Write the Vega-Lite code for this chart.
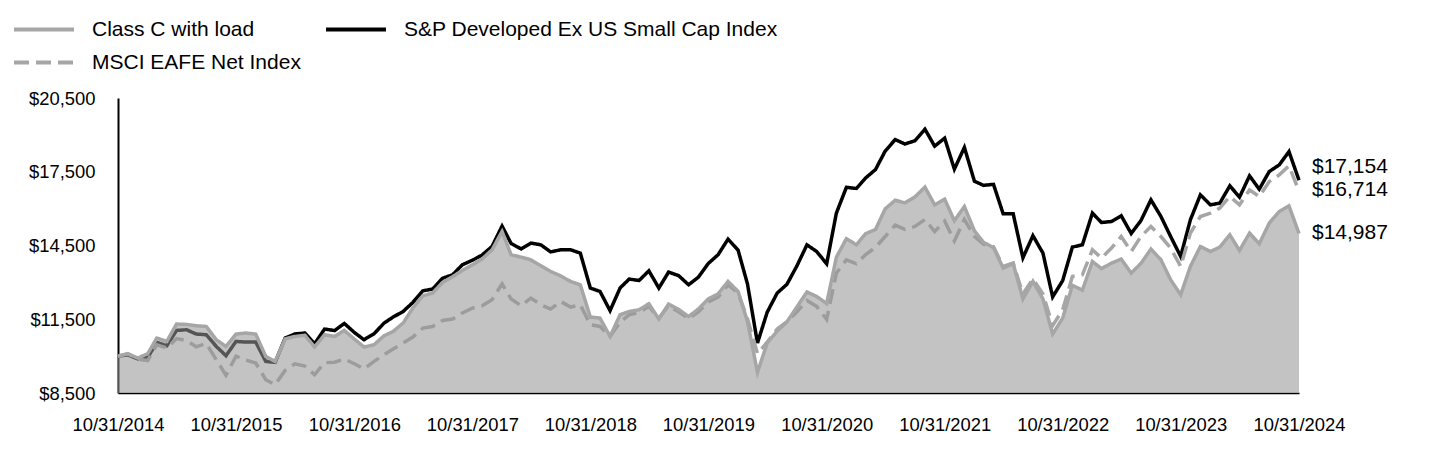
{
  "$schema": "https://vega.github.io/schema/vega-lite/v6.json",
  "width": 1181,
  "height": 295,
  "autosize": {"type": "none"},
  "padding": {"left": 118, "top": 98, "right": 141, "bottom": 75},
  "background": "white",
  "config": {"view": {"stroke": null}, "font": "Liberation Sans"},
  "data": {"values": [
    {"d":"2014-10-31","fund":10000,"index":10000,"msci":10000},
    {"d":"2014-11-30","fund":10100,"index":10050,"msci":10097},
    {"d":"2014-12-31","fund":9920,"index":9890,"msci":9880},
    {"d":"2015-01-31","fund":10100,"index":9950,"msci":9820},
    {"d":"2015-02-28","fund":10736,"index":10557,"msci":10460},
    {"d":"2015-03-31","fund":10598,"index":10423,"msci":10330},
    {"d":"2015-04-30","fund":11305,"index":11045,"msci":10715},
    {"d":"2015-05-31","fund":11290,"index":11073,"msci":10630},
    {"d":"2015-06-30","fund":11235,"index":10898,"msci":10380},
    {"d":"2015-07-31","fund":11207,"index":10870,"msci":10518},
    {"d":"2015-08-31","fund":10667,"index":10394,"msci":9854},
    {"d":"2015-09-30","fund":10394,"index":10016,"msci":9220},
    {"d":"2015-10-31","fund":10898,"index":10598,"msci":10000},
    {"d":"2015-11-30","fund":10939,"index":10571,"msci":9840},
    {"d":"2015-12-31","fund":10898,"index":10571,"msci":9720},
    {"d":"2016-01-31","fund":9988,"index":9785,"msci":9041},
    {"d":"2016-02-29","fund":9785,"index":9744,"msci":8837},
    {"d":"2016-03-31","fund":10700,"index":10736,"msci":9420},
    {"d":"2016-04-30","fund":10800,"index":10900,"msci":9685},
    {"d":"2016-05-31","fund":10850,"index":10940,"msci":9596},
    {"d":"2016-06-30","fund":10370,"index":10500,"msci":9244},
    {"d":"2016-07-31","fund":10870,"index":11101,"msci":9732},
    {"d":"2016-08-31","fund":10800,"index":11040,"msci":9752},
    {"d":"2016-09-30","fund":11045,"index":11330,"msci":9882},
    {"d":"2016-10-31","fund":10694,"index":10963,"msci":9690},
    {"d":"2016-11-30","fund":10370,"index":10667,"msci":9476},
    {"d":"2016-12-31","fund":10463,"index":10910,"msci":9785},
    {"d":"2017-01-31","fund":10829,"index":11345,"msci":10057},
    {"d":"2017-02-28","fund":11004,"index":11589,"msci":10289},
    {"d":"2017-03-31","fund":11345,"index":11817,"msci":10532},
    {"d":"2017-04-30","fund":11955,"index":12183,"msci":10776},
    {"d":"2017-05-31","fund":12455,"index":12658,"msci":11142},
    {"d":"2017-06-30","fund":12565,"index":12728,"msci":11207},
    {"d":"2017-07-31","fund":13000,"index":13170,"msci":11451},
    {"d":"2017-08-31","fund":13230,"index":13309,"msci":11508},
    {"d":"2017-09-30","fund":13484,"index":13715,"msci":11752},
    {"d":"2017-10-31","fund":13715,"index":13900,"msci":11955},
    {"d":"2017-11-30","fund":13947,"index":14110,"msci":12049},
    {"d":"2017-12-31","fund":14325,"index":14460,"msci":12293},
    {"d":"2018-01-31","fund":15069,"index":15290,"msci":12943},
    {"d":"2018-02-28","fund":14122,"index":14580,"msci":12321},
    {"d":"2018-03-31","fund":14028,"index":14360,"msci":12049},
    {"d":"2018-04-30","fund":13919,"index":14598,"msci":12362},
    {"d":"2018-05-31","fund":13675,"index":14528,"msci":12089},
    {"d":"2018-06-30","fund":13443,"index":14240,"msci":11915},
    {"d":"2018-07-31","fund":13268,"index":14325,"msci":12224},
    {"d":"2018-08-31","fund":13037,"index":14325,"msci":11996},
    {"d":"2018-09-30","fund":12902,"index":14190,"msci":12089},
    {"d":"2018-10-31","fund":11589,"index":12768,"msci":11276},
    {"d":"2018-11-30","fund":11548,"index":12630,"msci":11207},
    {"d":"2018-12-31","fund":10800,"index":11850,"msci":10800},
    {"d":"2019-01-31","fund":11683,"index":12770,"msci":11378},
    {"d":"2019-02-28","fund":11817,"index":13134,"msci":11683},
    {"d":"2019-03-31","fund":11886,"index":13077,"msci":11780},
    {"d":"2019-04-30","fund":12130,"index":13471,"msci":12022},
    {"d":"2019-05-31","fund":11508,"index":12768,"msci":11548},
    {"d":"2019-06-30","fund":12118,"index":13418,"msci":12050},
    {"d":"2019-07-31","fund":11900,"index":13275,"msci":11800},
    {"d":"2019-08-31","fund":11610,"index":12902,"msci":11520},
    {"d":"2019-09-30","fund":11915,"index":13210,"msci":11800},
    {"d":"2019-10-31","fund":12330,"index":13770,"msci":12200},
    {"d":"2019-11-30","fund":12530,"index":14122,"msci":12400},
    {"d":"2019-12-31","fund":13037,"index":14760,"msci":12902},
    {"d":"2020-01-31","fund":12630,"index":14310,"msci":12565},
    {"d":"2020-02-29","fund":11410,"index":12940,"msci":11520},
    {"d":"2020-03-31","fund":9340,"index":10532,"msci":10100},
    {"d":"2020-04-30","fund":10532,"index":11785,"msci":10565},
    {"d":"2020-05-31","fund":11020,"index":12565,"msci":11101},
    {"d":"2020-06-30","fund":11390,"index":12920,"msci":11400},
    {"d":"2020-07-31","fund":12000,"index":13670,"msci":11800},
    {"d":"2020-08-31","fund":12610,"index":14528,"msci":12260},
    {"d":"2020-09-30","fund":12427,"index":14256,"msci":12022},
    {"d":"2020-10-31","fund":12140,"index":13756,"msci":11494},
    {"d":"2020-11-30","fund":14020,"index":15817,"msci":13378},
    {"d":"2020-12-31","fund":14780,"index":16866,"msci":13919},
    {"d":"2021-01-31","fund":14528,"index":16820,"msci":13756},
    {"d":"2021-02-28","fund":14976,"index":17240,"msci":14122},
    {"d":"2021-03-31","fund":15150,"index":17590,"msci":14427},
    {"d":"2021-04-30","fund":15990,"index":18340,"msci":14866},
    {"d":"2021-05-31","fund":16340,"index":18810,"msci":15327},
    {"d":"2021-06-30","fund":16236,"index":18628,"msci":15152},
    {"d":"2021-07-31","fund":16480,"index":18762,"msci":15273},
    {"d":"2021-08-31","fund":16874,"index":19232,"msci":15560},
    {"d":"2021-09-30","fund":16154,"index":18540,"msci":15069},
    {"d":"2021-10-31","fund":16386,"index":18866,"msci":15496},
    {"d":"2021-11-30","fund":15510,"index":17606,"msci":14683},
    {"d":"2021-12-31","fund":16085,"index":18490,"msci":15560},
    {"d":"2022-01-31","fund":15100,"index":17116,"msci":14868},
    {"d":"2022-02-28","fund":14630,"index":16947,"msci":14555},
    {"d":"2022-03-31","fund":14415,"index":16988,"msci":14448},
    {"d":"2022-04-30","fund":13581,"index":15788,"msci":13647},
    {"d":"2022-05-31","fund":13760,"index":15788,"msci":13784},
    {"d":"2022-06-30","fund":12325,"index":14000,"msci":12530},
    {"d":"2022-07-31","fund":13040,"index":14900,"msci":13140},
    {"d":"2022-08-31","fund":12330,"index":14190,"msci":12530},
    {"d":"2022-09-30","fund":10900,"index":12410,"msci":11240},
    {"d":"2022-10-31","fund":11548,"index":13070,"msci":11886},
    {"d":"2022-11-30","fund":12880,"index":14435,"msci":13240},
    {"d":"2022-12-31","fund":12685,"index":14528,"msci":13309},
    {"d":"2023-01-31","fund":13850,"index":15817,"msci":14325},
    {"d":"2023-02-28","fund":13560,"index":15435,"msci":13988},
    {"d":"2023-03-31","fund":13784,"index":15476,"msci":14394},
    {"d":"2023-04-30","fund":13947,"index":15710,"msci":14866},
    {"d":"2023-05-31","fund":13378,"index":14990,"msci":14256},
    {"d":"2023-06-30","fund":13770,"index":15510,"msci":14866},
    {"d":"2023-07-31","fund":14353,"index":16358,"msci":15273},
    {"d":"2023-08-31","fund":13919,"index":15679,"msci":14866},
    {"d":"2023-09-30","fund":13105,"index":14866,"msci":14394},
    {"d":"2023-10-31","fund":12496,"index":14053,"msci":13647},
    {"d":"2023-11-30","fund":13647,"index":15545,"msci":15003},
    {"d":"2023-12-31","fund":14460,"index":16561,"msci":15679},
    {"d":"2024-01-31","fund":14256,"index":16154,"msci":15817},
    {"d":"2024-02-29","fund":14435,"index":16224,"msci":16020},
    {"d":"2024-03-31","fund":14935,"index":16927,"msci":16492},
    {"d":"2024-04-30","fund":14297,"index":16468,"msci":16154},
    {"d":"2024-05-31","fund":15003,"index":17333,"msci":16764},
    {"d":"2024-06-30","fund":14569,"index":16792,"msci":16492},
    {"d":"2024-07-31","fund":15411,"index":17508,"msci":17102},
    {"d":"2024-08-31","fund":15882,"index":17781,"msci":17374},
    {"d":"2024-09-30","fund":16114,"index":18321,"msci":17740},
    {"d":"2024-10-31","fund":14987,"index":17154,"msci":16714}
  ]},
  "encoding": {
    "x": {
      "field": "d", "type": "temporal",
      "scale": {"type": "utc", "nice": false},
      "axis": {
        "title": null, "grid": false, "ticks": false,
        "values": [
          {"year":2014,"month":10,"date":31,"utc":true},
          {"year":2015,"month":10,"date":31,"utc":true},
          {"year":2016,"month":10,"date":31,"utc":true},
          {"year":2017,"month":10,"date":31,"utc":true},
          {"year":2018,"month":10,"date":31,"utc":true},
          {"year":2019,"month":10,"date":31,"utc":true},
          {"year":2020,"month":10,"date":31,"utc":true},
          {"year":2021,"month":10,"date":31,"utc":true},
          {"year":2022,"month":10,"date":31,"utc":true},
          {"year":2023,"month":10,"date":31,"utc":true},
          {"year":2024,"month":10,"date":31,"utc":true}
        ],
        "format": "%m/%d/%Y",
        "labelFont": "Liberation Sans", "labelFontSize": 18.4, "labelColor": "#000000",
        "labelPadding": 22, "labelOverlap": false, "labelFlush": false,
        "domainColor": "#000000", "domainWidth": 1.5
      }
    },
    "y": {
      "type": "quantitative",
      "scale": {"domain": [8500, 20500], "nice": false, "zero": false},
      "axis": {
        "title": null, "grid": false, "ticks": false,
        "values": [8500, 11500, 14500, 17500, 20500],
        "format": "$,.0f",
        "labelFont": "Liberation Sans", "labelFontSize": 18.4, "labelColor": "#000000",
        "labelPadding": 23,
        "domainColor": "#000000", "domainWidth": 2
      }
    }
  },
  "layer": [
    {
      "transform": [{"fold": ["index", "msci"], "as": ["series", "value"]}],
      "mark": {"type": "line", "strokeWidth": 3.5},
      "encoding": {
        "y": {"field": "value", "type": "quantitative"},
        "color": {
          "field": "series", "type": "nominal",
          "scale": {"domain": ["fund", "msci", "index"], "range": ["#a6a6a6", "#a6a6a6", "#000000"]},
          "legend": {
            "title": null, "orient": "none", "legendX": -106, "legendY": -79,
            "columns": 2, "symbolType": "stroke", "symbolSize": 3600, "symbolStrokeWidth": 4,
            "clipHeight": 21, "labelFont": "Liberation Sans", "labelFontSize": 21, "labelColor": "#000000",
            "labelOffset": 16, "columnPadding": 23, "rowPadding": 11, "labelLimit": 0,
            "labelExpr": "datum.label == 'fund' ? 'Class C with load' : datum.label == 'index' ? 'S&P Developed Ex US Small Cap Index' : 'MSCI EAFE Net Index'"
          }
        },
        "strokeDash": {
          "field": "series", "type": "nominal",
          "scale": {"domain": ["fund", "msci", "index"], "range": [[1, 0], [15, 7], [1, 0]]},
          "legend": {
            "title": null, "orient": "none", "legendX": -106, "legendY": -79,
            "columns": 2, "symbolType": "stroke", "symbolSize": 3600, "symbolStrokeWidth": 4,
            "clipHeight": 21, "labelFont": "Liberation Sans", "labelFontSize": 21, "labelColor": "#000000",
            "labelOffset": 16, "columnPadding": 23, "rowPadding": 11, "labelLimit": 0,
            "labelExpr": "datum.label == 'fund' ? 'Class C with load' : datum.label == 'index' ? 'S&P Developed Ex US Small Cap Index' : 'MSCI EAFE Net Index'"
          }
        }
      }
    },
    {
      "mark": {"type": "area", "color": "#969696", "opacity": 0.57},
      "encoding": {
        "y": {"field": "fund", "type": "quantitative"},
        "y2": {"datum": 8500}
      }
    },
    {
      "transform": [{"fold": ["fund"], "as": ["series", "value"]}],
      "mark": {"type": "line", "strokeWidth": 3.5},
      "encoding": {
        "y": {"field": "value", "type": "quantitative"},
        "color": {"field": "series", "type": "nominal", "scale": {"domain": ["fund", "msci", "index"]}},
        "strokeDash": {"field": "series", "type": "nominal", "scale": {"domain": ["fund", "msci", "index"]}}
      }
    },
    {
      "data": {"values": [{"d": "2024-10-31", "v": 17154}]},
      "mark": {"type": "text", "align": "left", "baseline": "middle", "dx": 13, "dy": -13, "fontSize": 21, "font": "Liberation Sans", "color": "#000000"},
      "encoding": {
        "y": {"field": "v", "type": "quantitative"},
        "text": {"field": "v", "type": "quantitative", "format": "$,d"}
      }
    },
    {
      "data": {"values": [{"d": "2024-10-31", "v": 16714}, {"d": "2024-10-31", "v": 14987}]},
      "mark": {"type": "text", "align": "left", "baseline": "middle", "dx": 13, "dy": -1, "fontSize": 21, "font": "Liberation Sans", "color": "#000000"},
      "encoding": {
        "y": {"field": "v", "type": "quantitative"},
        "text": {"field": "v", "type": "quantitative", "format": "$,d"}
      }
    }
  ]
}
